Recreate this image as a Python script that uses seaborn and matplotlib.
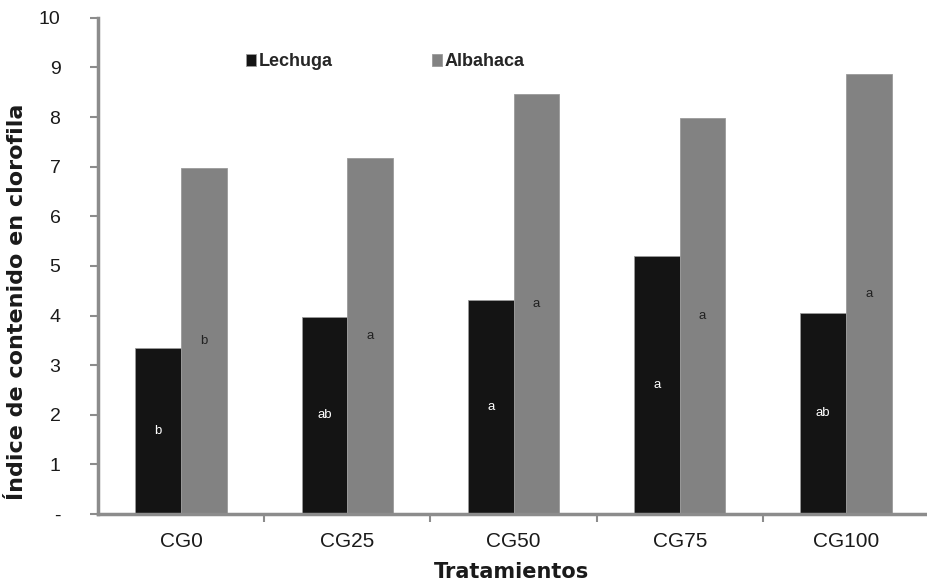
import pandas as pd
import matplotlib.pyplot as plt
import seaborn as sns
from matplotlib.ticker import FuncFormatter

# datos
tratamientos = ['CG0', 'CG25', 'CG50', 'CG75', 'CG100']
lechuga = [3.35, 3.98, 4.32, 5.20, 4.06]
albahaca = [6.98, 7.18, 8.46, 7.99, 8.86]
letras_lechuga = ['b', 'ab', 'a', 'a', 'ab']
letras_albahaca = ['b', 'a', 'a', 'a', 'a']

df = pd.DataFrame({
    'Tratamiento': tratamientos * 2,
    'Valor': lechuga + albahaca,
    'Cultivo': ['Lechuga'] * 5 + ['Albahaca'] * 5,
})

sns.set_style('white')
plt.rcParams['font.family'] = ['Liberation Sans', 'DejaVu Sans']

fig = plt.figure(figsize=(9.28, 5.83), dpi=100)
ax = fig.add_axes([0.1056, 0.1184, 0.892, 0.851])

sns.barplot(data=df, x='Tratamiento', y='Valor', hue='Cultivo',
            palette={'Lechuga': '#141414', 'Albahaca': '#828282'},
            width=0.55, gap=0, edgecolor='#9a9a9a', linewidth=0.6,
            errorbar=None, ax=ax)

# letras de significancia, a media altura de cada barra
for i in range(len(tratamientos)):
    ax.text(i - 0.1375, lechuga[i] / 2, letras_lechuga[i], ha='center', va='center',
            color='white', fontsize=9.5)
    ax.text(i + 0.1375, albahaca[i] / 2, letras_albahaca[i], ha='center', va='center',
            color='#222222', fontsize=9.5)

ax.set_ylim(0, 10)
ax.set_xlim(-0.5, 4.48)
ax.set_yticks(range(0, 11))
ax.yaxis.set_major_formatter(FuncFormatter(lambda v, p: '-' if v == 0 else f'{int(v)}'))
ax.set_xticks([0.5, 1.5, 2.5, 3.5], minor=True)
ax.tick_params(axis='x', which='major', length=0, labelsize=15, pad=13, labelcolor='#1a1a1a')
ax.tick_params(axis='x', which='minor', length=6, width=1.5, color='#8c8c8c', direction='out')
ax.tick_params(axis='y', length=6, width=1.5, color='#8c8c8c', direction='out', labelsize=14,
               pad=21, labelcolor='#1a1a1a')
ax.xaxis.set_ticks_position('bottom')
ax.yaxis.set_ticks_position('left')

for s in ['top', 'right']:
    ax.spines[s].set_visible(False)
for s in ['left', 'bottom']:
    ax.spines[s].set_color('#8c8c8c')
    ax.spines[s].set_linewidth(2.5)

ax.set_xlabel('Tratamientos', fontsize=15, fontweight='bold', family='DejaVu Sans',
              color='#1a1a1a')
ax.set_ylabel('Índice de contenido en clorofila', fontsize=16, fontweight='bold',
              family='DejaVu Sans', color='#1a1a1a')
ax.xaxis.set_label_coords(0.5, -0.097)
ax.yaxis.set_label_coords(-0.086, 0.427)

leg = ax.legend(loc='center left', bbox_to_anchor=(237 / 928, 1 - 62 / 583),
                bbox_transform=fig.transFigure, ncol=2, frameon=False, borderpad=0,
                handlelength=0.55, handleheight=0.6, handletextpad=0.15, columnspacing=5.5,
                prop={'weight': 'bold', 'size': 13})

fig.savefig('out.png', dpi=100)
